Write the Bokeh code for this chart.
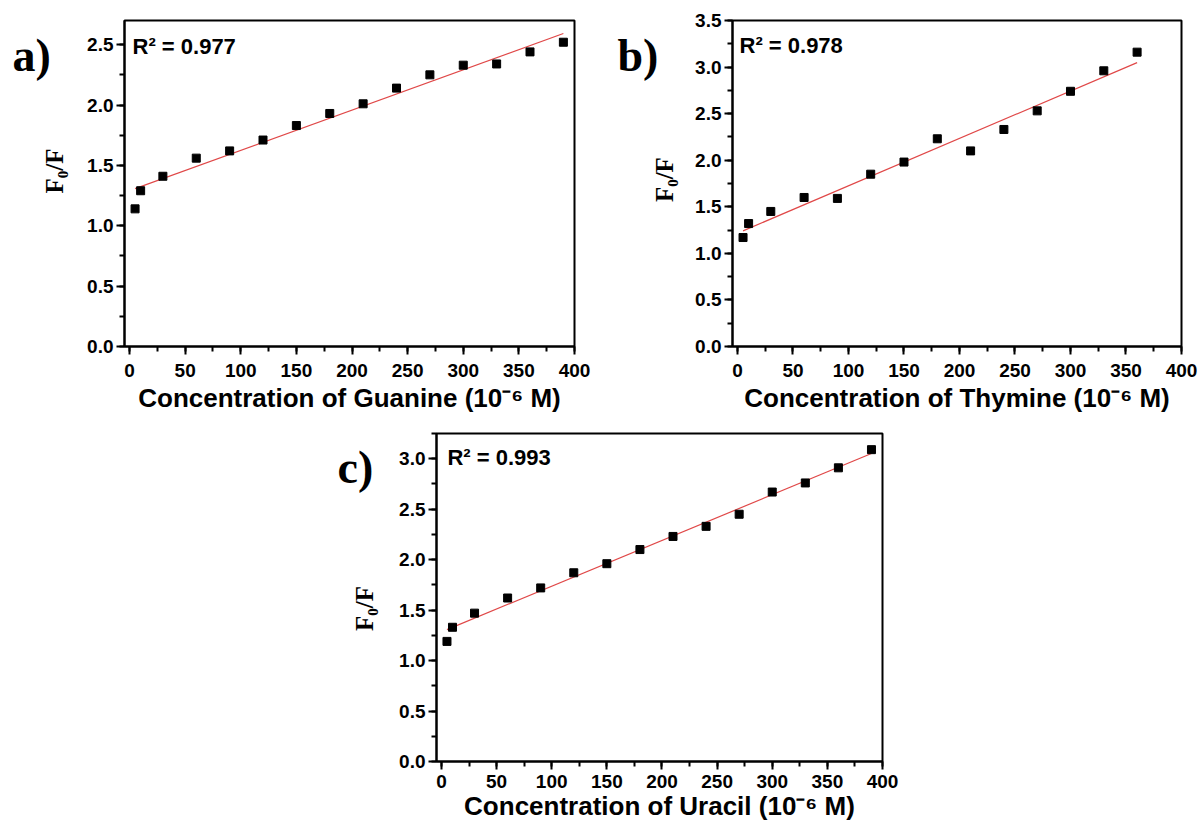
import math
import numpy as np
from bokeh.plotting import figure
from bokeh.models import Range1d, SingleIntervalTicker, PrintfTickFormatter, Label
from bokeh.layouts import row, column
from bokeh.embed import file_html
from bokeh.resources import INLINE

# ---- data ----
conc_guanine = [5, 10, 30, 60, 90, 120, 150, 180, 210, 240, 270, 300, 330, 360, 390]
f0f_guanine = [1.14, 1.29, 1.41, 1.56, 1.62, 1.71, 1.83, 1.93, 2.01, 2.14, 2.25, 2.33, 2.34, 2.44, 2.52]

conc_thymine = [5, 10, 30, 60, 90, 120, 150, 180, 210, 240, 270, 300, 330, 360]
f0f_thymine = [1.17, 1.32, 1.45, 1.60, 1.59, 1.85, 1.98, 2.23, 2.10, 2.33, 2.53, 2.74, 2.96, 3.16]

conc_uracil = [5, 10, 30, 60, 90, 120, 150, 180, 210, 240, 270, 300, 330, 360, 390]
f0f_uracil = [1.19, 1.33, 1.47, 1.62, 1.72, 1.87, 1.96, 2.10, 2.23, 2.33, 2.45, 2.67, 2.76, 2.91, 3.09]

r2_values = ["0.977", "0.978", "0.993"]
panel_letters = ["a)", "b)", "c)"]
y_title = "F\u2080/F"
x_titles = ["Concentration of Guanine (10\u207b\u2076 M)",
            "Concentration of Thymine (10\u207b\u2076 M)",
            "Concentration of Uracil (10\u207b\u2076 M)"]

SANS = "Liberation Sans"
SERIF = "Liberation Serif"


def side_fig(letter, width, height, letter_x, letter_base, title_x, title_cy):
    """Left-hand strip holding the panel letter and the rotated y-axis title."""
    f = figure(width=width, height=height, output_backend="svg", toolbar_location=None,
               x_range=Range1d(0, width), y_range=Range1d(0, height),
               x_axis_location=None, y_axis_location=None,
               min_border_left=0, min_border_right=0, min_border_top=0, min_border_bottom=0)
    f.grid.visible = False
    f.outline_line_color = None
    f.background_fill_color = "white"
    f.border_fill_color = "white"
    f.add_layout(Label(x=letter_x, y=height - letter_base, text=letter,
                       text_font=SERIF, text_font_style="bold", text_font_size="46px",
                       text_color="black", text_baseline="alphabetic", text_align="left"))
    f.add_layout(Label(x=title_x, y=height - title_cy, text=y_title, angle=math.pi / 2,
                       text_font=SERIF, text_font_style="bold", text_font_size="25px",
                       text_color="black", text_baseline="alphabetic", text_align="center"))
    return f


def panel(conc, vals, xtitle, r2, width, height, borders, ymax, r2_xy, xstand):
    bl, br, bt, bb = borders
    p = figure(width=width, height=height, output_backend="svg", toolbar_location=None,
               x_range=Range1d(-4.5, 400), y_range=Range1d(0, ymax),
               min_border_left=bl, min_border_right=br,
               min_border_top=bt, min_border_bottom=bb)
    p.background_fill_color = "white"
    p.border_fill_color = "white"
    p.outline_line_color = "black"
    p.outline_line_width = 2
    p.grid.visible = False

    p.xaxis.ticker = SingleIntervalTicker(interval=50, num_minor_ticks=2)
    p.yaxis.ticker = SingleIntervalTicker(interval=0.5, num_minor_ticks=2)
    p.yaxis.formatter = PrintfTickFormatter(format="%.1f")
    p.xaxis.formatter = PrintfTickFormatter(format="%d")
    for ax in (p.xaxis, p.yaxis):
        ax.axis_line_width = 2
        ax.axis_line_color = "black"
        ax.major_tick_line_width = 2
        ax.minor_tick_line_width = 2
        ax.major_tick_line_color = "black"
        ax.minor_tick_line_color = "black"
        ax.major_tick_out = 8
        ax.major_tick_in = 0
        ax.minor_tick_out = 5
        ax.minor_tick_in = 0
        ax.major_label_text_font = SANS
        ax.major_label_text_font_style = "bold"
        ax.major_label_text_font_size = "19px"
        ax.major_label_text_color = "black"
    p.xaxis.major_label_standoff = xstand[0]
    p.yaxis.major_label_standoff = 3
    p.xaxis.axis_label = xtitle
    p.xaxis.axis_label_text_color = "black"
    p.xaxis.axis_label_text_font = SANS
    p.xaxis.axis_label_text_font_style = "bold"
    p.xaxis.axis_label_text_font_size = "26px"
    p.xaxis.axis_label_standoff = xstand[1]

    x = np.array(conc, dtype=float)
    y = np.array(vals, dtype=float)
    slope, intercept = np.polyfit(x, y, 1)
    fx = [x[0], x[-1]]
    fy = [intercept + slope * x[0], intercept + slope * x[-1]]
    p.line(fx, fy, line_color="#e04848", line_width=1.2)
    p.scatter(conc, vals, marker="square", size=8, fill_color="black", line_color="black")

    p.add_layout(Label(x=r2_xy[0], y=r2_xy[1], text="R\u00b2 = " + r2,
                       text_font=SANS, text_font_style="bold", text_font_size="22px",
                       text_color="black", text_baseline="alphabetic"))
    return p


la = side_fig(panel_letters[0], 76, 420, 12, 45, 54, 194)
pa = panel(conc_guanine, f0f_guanine, x_titles[0], r2_values[0],
           524, 420, (48, 26, 15, 74), 2.7, (2.7, 2.486), (9, 3))
lb = side_fig(panel_letters[1], 80, 420, 17, 45, 63.5, 205)
pb = panel(conc_thymine, f0f_thymine, x_titles[1], r2_values[1],
           521, 420, (52, 20, 20, 70), 3.5, (1.8, 3.234), (9, 3))
lc = side_fig(panel_letters[2], 384, 403, 337, 42, 364, 215)
pc = panel(conc_uracil, f0f_uracil, x_titles[2], r2_values[2],
           817, 403, (52, 319, 13, 62), 3.25, (5.4, 3.013), (5, 0))

layout = column(row(la, pa, lb, pb), row(lc, pc))
open("out.html", "w").write(file_html(layout, INLINE))
